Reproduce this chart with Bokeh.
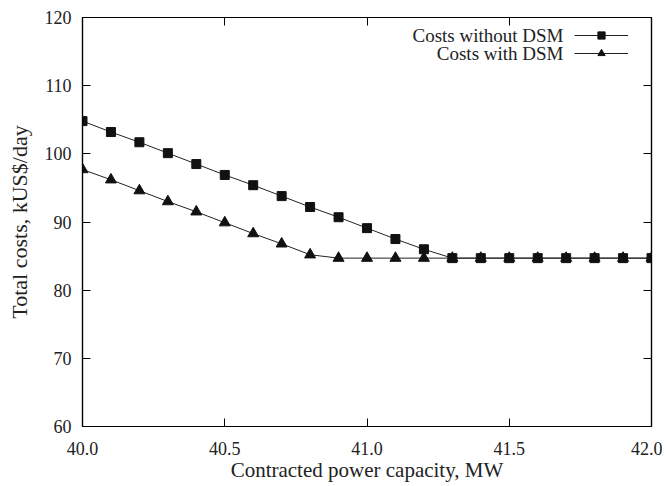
from bokeh.plotting import figure
from bokeh.models import LinearAxis, Legend, LegendItem, Label, Range1d, FixedTicker
from bokeh.embed import file_html
from bokeh.resources import INLINE

capacity = [40.0, 40.1, 40.2, 40.3, 40.4, 40.5, 40.6, 40.7, 40.8, 40.9, 41.0,
            41.1, 41.2, 41.3, 41.4, 41.5, 41.6, 41.7, 41.8, 41.9, 42.0]
costs_without_dsm = [104.8, 103.2, 101.7, 100.1, 98.5, 96.9, 95.4, 93.8, 92.2, 90.7, 89.1,
                     87.5, 86.0, 84.7, 84.7, 84.7, 84.7, 84.7, 84.7, 84.7, 84.7]
costs_with_dsm = [97.7, 96.2, 94.6, 93.0, 91.5, 89.9, 88.3, 86.8, 85.2, 84.7, 84.7,
                  84.7, 84.7, 84.7, 84.7, 84.7, 84.7, 84.7, 84.7, 84.7, 84.7]
x_ticks = [40.0, 40.5, 41.0, 41.5, 42.0]
y_ticks = [60, 70, 80, 90, 100, 110, 120]
series_labels = ["Costs without DSM", "Costs with DSM"]

FONT = "Liberation Serif"

p = figure(width=662, height=486, output_backend="svg", toolbar_location=None,
           x_range=Range1d(40.0, 42.0), y_range=Range1d(60, 120),
           min_border_left=82, min_border_right=11, min_border_top=17, min_border_bottom=60,
           x_axis_label="Contracted power capacity, MW",
           y_axis_label="Total costs, kUS$/day")
p.grid.visible = False
p.outline_line_color = "black"
p.outline_line_width = 1.2

def style_axis(ax):
    ax.axis_line_color = "black"
    ax.axis_line_width = 1.2
    ax.major_tick_in = 8
    ax.major_tick_out = 0
    ax.minor_tick_line_color = None
    ax.major_tick_line_color = "black"
    ax.major_label_text_font = FONT
    ax.major_label_text_font_size = "18px"
    ax.major_label_text_color = "#222222"
    ax.axis_label_text_font = FONT
    ax.axis_label_text_font_style = "normal"
    ax.axis_label_text_color = "#222222"

p.xaxis.ticker = FixedTicker(ticks=x_ticks)
p.yaxis.ticker = FixedTicker(ticks=y_ticks)
p.xaxis.major_label_overrides = {t: f"{t:.1f}" for t in x_ticks}
style_axis(p.xaxis[0])
style_axis(p.yaxis[0])
p.xaxis.axis_label_text_font_size = "21px"
p.yaxis.axis_label_text_font_size = "22px"
p.xaxis.major_label_standoff = 15
p.xaxis.axis_label_standoff = 0
p.yaxis.major_label_standoff = 11
p.yaxis.axis_label_standoff = 10

top = LinearAxis(ticker=FixedTicker(ticks=x_ticks))
top.major_label_overrides = {t: "" for t in x_ticks}
right = LinearAxis(ticker=FixedTicker(ticks=y_ticks))
right.major_label_overrides = {t: "" for t in y_ticks}
for ax in (top, right):
    style_axis(ax)
    ax.major_label_standoff = 0
p.add_layout(top, "above")
p.add_layout(right, "right")

l1 = p.line(capacity, costs_without_dsm, line_color="#222222", line_width=1)
s1 = p.scatter(capacity, costs_without_dsm, marker="square", size=9,
               fill_color="#111111", line_color="#111111")
l2 = p.line(capacity, costs_with_dsm, line_color="#222222", line_width=1)
s2 = p.scatter(capacity, costs_with_dsm, marker="triangle", size=11,
               fill_color="#111111", line_color="#111111")

legend = Legend(items=[LegendItem(label=" ", renderers=[l1, s1]),
                       LegendItem(label=" ", renderers=[l2, s2])],
                location=(492, 364), border_line_color=None, background_fill_alpha=0,
                padding=0, margin=0, spacing=0, glyph_width=54, glyph_height=18,
                label_standoff=0, label_width=0, label_text_font_size="1px")
p.add_layout(legend, "center")

for i, txt in enumerate(series_labels):
    p.add_layout(Label(x=481, y=391 - 18 * i, x_units="screen", y_units="screen",
                       text=txt, text_align="right", text_baseline="middle",
                       text_font=FONT, text_font_size="19px", text_color="#222222"))

open("out.html", "w").write(file_html(p, INLINE))
